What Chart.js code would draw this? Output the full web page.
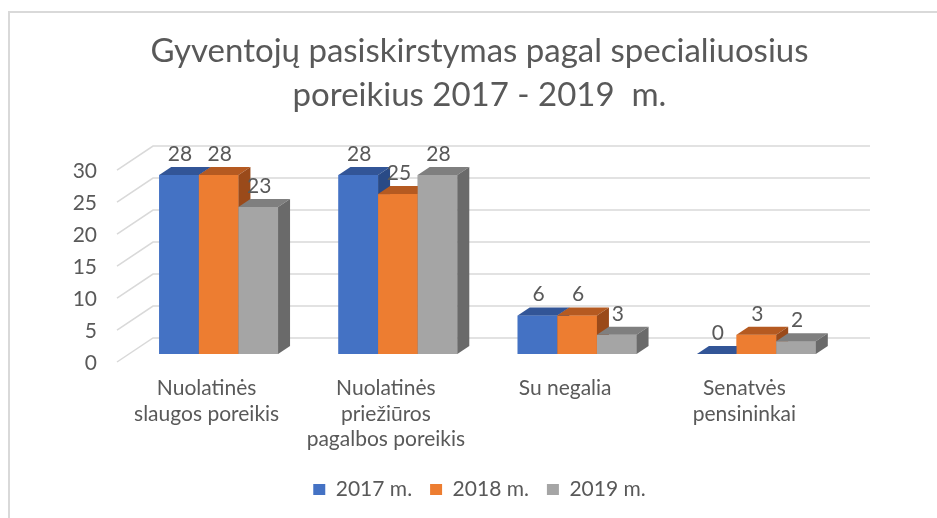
<!DOCTYPE html>
<html>
<head>
<meta charset="utf-8">
<script src="https://cdn.jsdelivr.net/npm/chart.js@4.4.1/dist/chart.umd.min.js"></script>
<style>
  html, body { margin: 0; padding: 0; background: #ffffff; }
  #wrap { width: 937px; height: 518px; position: relative; }
</style>
</head>
<body>
<div id="wrap"><canvas id="c" width="937" height="518"></canvas></div>
<script>
const categories = [
  ['Nuolatinės', 'slaugos poreikis'],
  ['Nuolatinės', 'priežiūros', 'pagalbos poreikis'],
  ['Su negalia'],
  ['Senatvės', 'pensininkai']
];
const seriesNames = ['2017 m.', '2018 m.', '2019 m.'];
const values2017 = [28, 28, 6, 0];
const values2018 = [28, 25, 6, 3];
const values2019 = [23, 28, 3, 2];
const yTicks = [0, 5, 10, 15, 20, 25, 30];

const FRONT = ['#4472C4', '#ED7D31', '#A5A5A5'];
const TOP   = ['#325597', '#B55A21', '#7F7F7F'];
const SIDE  = ['#294A86', '#9A4A1A', '#6A6A6A'];
const TXT = '#595959';
const FONT = 'Lato, "Open Sans", sans-serif';
const DX = 12, DY = 8;

const bar3d = {
  id: 'bar3d',
  beforeDraw(chart) {
    const ctx = chart.ctx;
    ctx.save();
    ctx.fillStyle = '#ffffff';
    ctx.fillRect(0, 0, chart.width, chart.height);
    ctx.strokeStyle = '#D9D9D9';
    ctx.lineWidth = 2;
    ctx.beginPath();
    ctx.moveTo(9, chart.height + 5);
    ctx.lineTo(9, 12);
    ctx.lineTo(chart.width + 5, 12);
    ctx.stroke();
    ctx.restore();
  },
  beforeDatasetsDraw(chart) {
    const ctx = chart.ctx;
    const a = chart.chartArea;
    const ys = chart.scales.y;
    ctx.save();
    ctx.strokeStyle = '#D9D9D9';
    ctx.lineWidth = 1.5;
    yTicks.forEach(v => {
      const y = ys.getPixelForValue(v);
      ctx.beginPath();
      ctx.moveTo(a.left - DX, y + DY);
      ctx.lineTo(a.left + 2 * DX, y - 2 * DY);
      ctx.lineTo(a.right + 2 * DX, y - 2 * DY);
      ctx.stroke();
    });
    ctx.restore();
  },
  afterDatasetsDraw(chart) {
    const ctx = chart.ctx;
    const metas = chart.data.datasets.map((d, i) => chart.getDatasetMeta(i));
    ctx.save();
    const n = chart.data.labels.length;
    for (let c = 0; c < n; c++) {
      metas.forEach((meta, di) => {
        const el = meta.data[c];
        const x0 = el.x - el.width / 2, x1 = el.x + el.width / 2;
        const yt = el.y, yb = el.base;
        ctx.fillStyle = FRONT[di];
        ctx.fillRect(x0, yt, x1 - x0, yb - yt);
        ctx.fillStyle = TOP[di];
        ctx.beginPath();
        ctx.moveTo(x0, yt); ctx.lineTo(x1, yt);
        ctx.lineTo(x1 + DX, yt - DY); ctx.lineTo(x0 + DX, yt - DY);
        ctx.closePath(); ctx.fill();
        ctx.fillStyle = SIDE[di];
        ctx.beginPath();
        ctx.moveTo(x1, yt); ctx.lineTo(x1 + DX, yt - DY);
        ctx.lineTo(x1 + DX, yb - DY); ctx.lineTo(x1, yb);
        ctx.closePath(); ctx.fill();
      });
    }
    ctx.fillStyle = TXT;
    ctx.font = '21px ' + FONT;
    ctx.textAlign = 'center';
    ctx.textBaseline = 'middle';
    metas.forEach((meta, di) => {
      const vals = chart.data.datasets[di].data;
      meta.data.forEach((el, i) => {
        ctx.fillText(String(vals[i]), el.x + 1, el.y - 21);
      });
    });
    ctx.restore();
  }
};

new Chart(document.getElementById('c'), {
  type: 'bar',
  data: {
    labels: categories,
    datasets: [
      { label: seriesNames[0], data: values2017, backgroundColor: FRONT[0] },
      { label: seriesNames[1], data: values2018, backgroundColor: FRONT[1] },
      { label: seriesNames[2], data: values2019, backgroundColor: FRONT[2] }
    ]
  },
  options: {
    responsive: false,
    animation: false,
    devicePixelRatio: 1,
    datasets: { bar: { barPercentage: 1, categoryPercentage: 0.663 } },
    layout: { padding: { left: 22, right: 0, top: 0, bottom: 8 } },
    scales: {
      y: {
        min: 0, max: 30,
        afterFit(s) { s.width = 107; },
        afterBuildTicks(s) { s.ticks = yTicks.map(v => ({ value: v })); },
        grid: { display: false, drawTicks: false },
        border: { display: false },
        ticks: { color: TXT, font: { family: FONT, size: 21 }, padding: 32, labelOffset: 9 }
      },
      yRight: {
        position: 'right',
        min: 0, max: 30,
        afterFit(s) { s.width = 91; },
        grid: { display: false, drawTicks: false },
        border: { display: false },
        ticks: { display: false }
      },
      x: {
        afterFit(s) { s.height = 107; },
        grid: { display: false, drawTicks: false },
        border: { display: false },
        ticks: { color: TXT, font: { family: FONT, size: 21, lineHeight: 1.2 }, padding: 22, labelOffset: -12, maxRotation: 0, autoSkip: false }
      }
    },
    plugins: {
      title: {
        display: true,
        text: ['Gyventojų pasiskirstymas pagal specialiuosius', 'poreikius 2017 - 2019  m.'],
        color: TXT,
        font: { family: FONT, size: 33, weight: 'normal', lineHeight: 1.32 },
        padding: { top: 30, bottom: 45 }
      },
      legend: {
        position: 'bottom',
        labels: { color: TXT, font: { family: FONT, size: 21 }, boxWidth: 12, boxHeight: 11, padding: 18 }
      },
      tooltip: { enabled: false }
    }
  },
  plugins: [bar3d]
});
</script>
</body>
</html>
